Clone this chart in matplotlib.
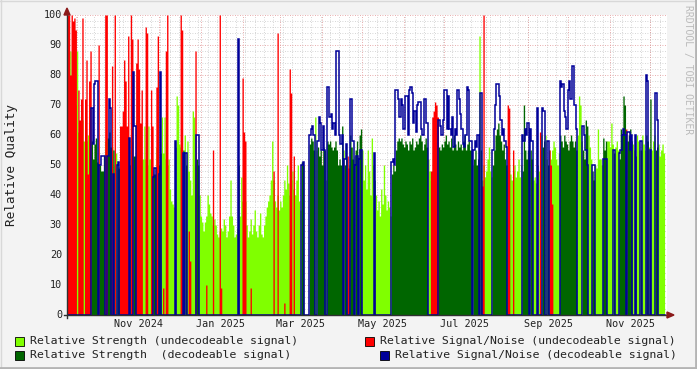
import numpy as np
import matplotlib
matplotlib.use("Agg")
import matplotlib.pyplot as plt
import matplotlib.dates as mdates
from matplotlib.patches import Rectangle, Polygon
from matplotlib.lines import Line2D
import datetime as dt

# ---------------- data (one value per day, starting 2024-09-23 14:00) ----------------
decodeable = [
 0,0,0,0,0,0,0,0,0,0, 0,0,0,0,0,0,0,0,1,1, 1,1,1,0,1,1,1,1,0,0, 1,1,1,0,1,0,0,1,1,0,
 0,0,0,0,0,0,1,0,0,1, 1,0,0,0,0,0,0,0,0,0, 0,0,0,0,1,1,0,0,1,1, 0,0,0,0,0,0,0,0,0,0,
 1,0,0,0,0,0,1,0,1,0, 0,0,0,0,0,0,1,1,0,0, 0,0,0,0,0,0,0,0,0,0, 0,0,0,0,0,0,0,0,0,0,
 0,0,0,0,0,0,0,1,0,0, 0,0,0,0,0,0,0,0,0,0, 0,0,0,0,0,0,0,0,0,0, 0,0,0,0,0,0,0,0,0,0,
 0,0,0,0,0,0,0,0,0,0, 0,0,0,0,1,1,0,0,0,0, 1,1,1,1,0,0,1,1,1,1, 1,1,0,1,1,1,1,1,1,1,
 1,1,1,1,1,0,1,1,0,0, 1,1,1,0,1,1,0,1,1,0, 0,0,0,0,0,0,0,0,1,0, 0,0,0,0,0,0,0,0,0,0,
 0,1,1,1,1,1,1,1,1,1, 1,1,1,1,1,1,1,1,1,1, 1,1,1,1,1,1,1,1,0,0, 0,0,0,0,0,0,1,1,1,1,
 1,1,1,1,1,1,1,1,1,1, 1,1,1,1,1,1,1,1,1,1, 1,0,1,1,1,1,0,1,0,0, 0,0,0,0,0,0,1,1,1,1,
 1,1,1,1,1,1,1,0,0,0, 0,0,0,0,0,0,0,0,1,1, 1,1,1,0,1,1,0,0,0,1, 0,0,0,1,1,0,0,1,0,0,
 0,0,0,0,0,0,1,1,1,1, 1,1,1,1,1,1,1,1,1,0, 0,0,0,1,1,1,1,0,0,0, 1,1,0,0,0,0,0,0,1,1,
 1,0,0,0,0,0,1,0,0,0, 1,1,1,1,1,0,1,1,1,1, 0,0,1,0,0,0,1,0,0,0, 1,1,0,1,0,0,0,1,1,0,
 0,0,0,0,
]
strength = [
 70,70,88,80,80,75,70,88,61,58, 67,65,58,60,58,60,64,56,58,52, 57,59,51,50,50,48,48,53,58,59, 59,61,56,56,55,50,54,50,49,52,
 58,52,55,50,52,58,50,55,58,53, 53,65,51,52,51,52,52,63,52,50, 63,52,50,48,47,47,56,54,50,54, 66,54,66,52,50,52,42,38,37,36,
 56,73,70,57,56,52,55,60,50,58, 48,45,40,68,66,50,52,50,40,33, 31,28,31,33,40,37,34,33,30,32, 30,27,26,28,29,28,32,30,26,28,
 33,45,33,30,26,27,29,50,33,46, 38,36,38,30,26,28,32,27,30,35, 28,26,30,34,27,26,30,33,36,38, 40,45,58,45,38,36,40,35,38,36,
 40,45,42,50,44,40,45,48,42,40, 45,50,38,35,51,50,0,0,0,0, 57,59,58,55,66,55,56,53,55,50, 56,55,45,58,57,58,56,55,56,58,
 55,50,52,50,63,55,50,52,48,50, 60,56,52,53,55,58,52,60,62,55, 45,50,42,55,48,40,59,50,45,40, 35,38,33,42,37,50,40,35,38,36,
 33,47,50,48,55,58,59,58,59,57, 56,58,57,55,58,57,59,55,56,58, 57,59,60,58,55,57,59,56,52,48, 45,47,48,48,45,50,56,55,57,56,
 58,60,57,58,56,59,55,60,57,55, 58,56,57,55,58,60,55,57,58,55, 55,50,52,55,50,52,93,55,45,50, 46,48,52,56,48,46,50,55,60,62,
 64,60,58,55,57,52,50,48,50,47, 45,48,50,46,48,52,46,50,48,70, 55,52,55,48,55,52,45,46,44,50, 48,55,60,56,58,60,52,50,55,52,
 55,58,56,52,50,54,60,58,56,60, 58,57,55,58,60,58,56,58,55,60, 73,70,58,55,52,65,63,60,56,52, 48,45,50,49,62,52,52,50,59,55,
 58,58,58,56,64,57,54,56,58,55, 52,62,60,73,70,55,58,60,62,58, 57,55,53,60,58,55,55,60,57,55, 60,58,56,72,55,58,60,55,56,57,
 53,55,57,54,
]
snr = [
 100,100,80,100,98,99,95,0,75,65, 72,99,0,72,85,47,78,88,69,57, 77,78,78,90,50,53,53,53,100,100, 53,72,69,83,47,100,0,50,51,63,
 63,68,85,78,63,93,59,100,92,81, 63,84,92,82,64,75,0,0,96,94, 0,0,75,63,46,49,76,93,47,81, 0,9,0,88,100,0,0,0,0,0,
 58,0,0,0,100,95,54,0,54,0, 28,18,0,0,0,88,60,60,0,0, 0,0,0,10,0,0,0,0,55,0, 0,0,0,100,9,0,0,0,0,0,
 0,0,0,0,0,0,0,92,0,0, 79,61,58,0,0,0,9,0,0,0, 0,0,0,0,0,0,0,0,0,0, 0,0,0,48,0,0,94,0,0,0,
 0,4,0,0,0,82,74,0,53,0, 0,0,0,0,50,51,0,0,0,0, 60,62,63,60,0,0,58,66,64,55, 63,55,0,76,76,66,67,62,64,60,
 88,88,60,57,60,0,52,57,53,49, 72,72,58,0,50,53,0,52,55,0, 0,0,0,0,0,0,0,0,54,0, 0,0,0,0,0,0,0,0,0,0,
 0,51,52,50,75,75,72,66,72,70, 62,73,73,60,75,76,74,64,68,61, 70,71,71,62,60,72,72,64,0,0, 48,66,68,71,70,66,65,63,60,65,
 75,75,62,73,62,60,66,56,62,60, 75,72,67,62,57,56,60,76,75,58, 58,0,55,58,56,60,0,74,43,100, 0,0,0,0,0,0,55,62,70,77,
 77,73,65,60,62,58,56,70,69,0, 0,55,0,0,0,0,0,0,60,58, 62,60,64,0,62,58,0,0,0,69, 0,61,0,69,68,0,0,58,55,50,
 37,0,0,0,0,0,78,76,77,68, 66,62,75,78,72,83,83,70,62,0, 0,0,0,63,60,55,50,0,0,0, 50,50,0,0,0,0,0,0,52,52,
 52,0,0,0,0,0,55,0,0,0, 54,55,60,62,60,62,61,61,55,60, 0,0,60,0,0,0,58,0,0,0, 80,78,0,55,0,0,0,74,65,0,
 0,0,0,0,
]
series_labels = [
    "Relative Strength (undecodeable signal)",
    "Relative Signal/Noise (undecodeable signal)",
    "Relative Strength  (decodeable signal)",
    "Relative Signal/Noise (decodeable signal)",
]
month_labels = ["Nov 2024", "Jan 2025", "Mar 2025", "May 2025", "Jul 2025", "Sep 2025", "Nov 2025"]
y_ticks = [0, 10, 20, 30, 40, 50, 60, 70, 80, 90, 100]

# ---------------- styling ----------------
W, H = 697, 369
C_LG, C_RED, C_DG, C_NAVY = "#80FF00", "#FF0000", "#006600", "#000099"
MONO = "DejaVu Sans Mono"
BG = "#F3F3F3"

fig = plt.figure(figsize=(W / 100, H / 100), dpi=100, facecolor=BG)
px = lambda x: x / W
py = lambda y: 1 - y / H

L, R, T, B = 67, 667, 15, 315
ax = fig.add_axes([px(L), py(B), (R - L) / W, (B - T) / H])
ax.set_facecolor("white")
for s in ax.spines.values():
    s.set_visible(False)

start = mdates.date2num(dt.datetime(2024, 9, 23, 14))
span = 445.8
ax.set_xlim(start, start + span)
ax.set_ylim(0, 100)

dec = np.array(decodeable, dtype=bool)
st = np.array(strength, dtype=float)
sn = np.array(snr, dtype=float)
n = len(st)
edges = start + np.arange(n + 1)

def stepvals(v):
    return np.append(v, v[-1])

lg = np.where(~dec, st, 0.0)
rd = np.where(~dec, sn, 0.0)
dg = np.where(dec, st, 0.0)
nv = np.where(dec, sn, 0.0)

# grid
for yv in np.arange(2, 100, 2):
    if yv % 10:
        ax.axhline(yv, color="#C8C8C8", lw=0.6, ls=(0, (1, 2)), zorder=0.5)
for yv in y_ticks[1:]:
    ax.axhline(yv, color="#E09090", lw=0.6, ls=(0, (1, 2)), zorder=0.6)

months = []
for yy in (2024, 2025):
    for mm in range(1, 13):
        d = mdates.date2num(dt.datetime(yy, mm, 1))
        if start < d < start + span:
            months.append(d)
for m in months:
    ax.axvline(m, color="#E09090", lw=0.6, ls=(0, (1, 2)), zorder=0.6)
wk = mdates.date2num(dt.datetime(2024, 9, 30))
while wk < start + span:
    ax.axvline(wk, color="#C8C8C8", lw=0.6, ls=(0, (1, 2)), zorder=0.5)
    wk += 7

ax.fill_between(edges, 0, stepvals(lg), step="post", color=C_LG, lw=0, zorder=2)
ax.fill_between(edges, 0, stepvals(rd), step="post", color=C_RED, lw=0, zorder=3)
ax.fill_between(edges, 0, stepvals(dg), step="post", color=C_DG, lw=0, zorder=4)
ax.step(edges, stepvals(nv), where="post", color=C_NAVY, lw=1.1, zorder=5,
        solid_joinstyle="miter")

ax.set_xticks([])
ax.set_yticks([])

def fline(x0, y0, x1, y1, **kw):
    fig.add_artist(Line2D([px(x0), px(x1)], [py(y0), py(y1)], transform=fig.transFigure, **kw))

fline(64, B, 668, B, color="#303030", lw=1, zorder=10)
fline(L, 318, L, 12, color="#303030", lw=1, zorder=10)
fig.add_artist(Polygon([[px(667), py(B - 3)], [px(667), py(B + 3)], [px(674), py(B)]],
                       closed=True, transform=fig.transFigure, color="#8B1A1A", zorder=11))
fig.add_artist(Polygon([[px(L - 3), py(15)], [px(L + 3), py(15)], [px(L), py(8)]],
                       closed=True, transform=fig.transFigure, color="#8B1A1A", zorder=11))

for yv in y_ticks:
    ypix = B - yv * 3
    fig.text(px(62), py(ypix), str(yv), ha="right", va="center", fontsize=7.3,
             family=MONO, color="#222222")
for i, lab in enumerate(month_labels):
    yy = 2024 + (10 + 2 * i) // 12
    mm = (10 + 2 * i) % 12 + 1
    d = mdates.date2num(dt.datetime(yy, mm, 1)) + 15
    xpix = L + (d - start) / span * (R - L)
    fig.text(px(xpix), py(324), lab, ha="center", va="center", fontsize=7.3,
             family=MONO, color="#222222")

fig.text(px(12), py(165), "Relative Quality", rotation=90, ha="center", va="center",
         fontsize=9.2, family=MONO, color="#222222")

fig.text(px(688), py(5), "RRDTOOL / TOBI OETIKER", rotation=270, ha="center", va="top",
         fontsize=7.0, family=MONO, color="#BBBBBB")

leg = [(15, 341, C_LG, 0, 30), (365, 341, C_RED, 1, 380), (15, 355, C_DG, 2, 30), (380, 355, C_NAVY, 3, 395)]
for x0, yc, col, idx, tx in leg:
    fig.add_artist(Rectangle((px(x0), py(yc + 4.5)), 9 / W, 9 / H, transform=fig.transFigure,
                             facecolor=col, edgecolor="#000000", lw=0.6))
    fig.text(px(tx), py(yc), series_labels[idx], ha="left", va="center", fontsize=8.25,
             family=MONO, color="#222222")

fline(0, 0.5, W, 0.5, color="#D8D8D8", lw=1)
fline(0.5, 0, 0.5, H, color="#D8D8D8", lw=1)
fline(0, H - 1.5, W, H - 1.5, color="#B4B4B4", lw=2)
fline(W - 1.5, 0, W - 1.5, H, color="#B4B4B4", lw=2)

fig.savefig("out.png", dpi=100, facecolor=BG)
